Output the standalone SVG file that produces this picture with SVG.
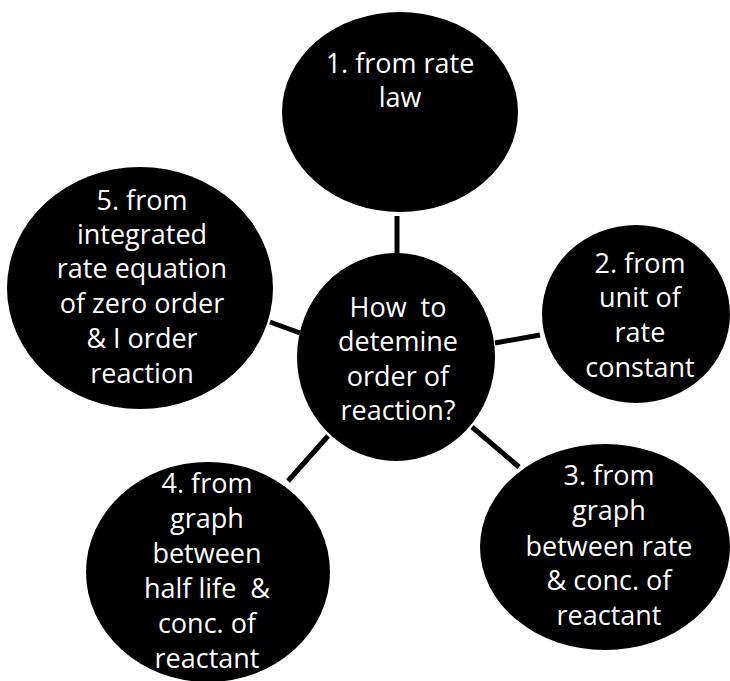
<svg xmlns="http://www.w3.org/2000/svg" width="730" height="681" viewBox="0 0 730 681">
<style>
.node{fill:#000;}
.lbl{fill:#fff;font-family:"Open Sans","Noto Sans",sans-serif;font-size:27px;text-anchor:middle;}
.conn line{stroke:#000;stroke-width:5;stroke-linecap:butt;}
</style>
<rect width="730" height="681" fill="#fff"/>
<g id="connectors" class="conn">
<line x1="397" y1="216" x2="397" y2="255"/>
<line x1="495" y1="343" x2="540" y2="335"/>
<line x1="472" y1="427" x2="519" y2="467"/>
<line x1="328" y1="436" x2="288" y2="481"/>
<line x1="270" y1="322" x2="300" y2="333"/>
</g>
<g id="center">
<ellipse class="node" cx="396" cy="357" rx="99" ry="104"/>
<text class="lbl"><tspan x="398" y="317">How&#160; to</tspan><tspan x="398" y="351">detemine</tspan><tspan x="398" y="386">order of</tspan><tspan x="398" y="420">reaction?</tspan></text>
</g>
<g id="n1">
<ellipse class="node" cx="400" cy="112" rx="118" ry="100"/>
<text class="lbl"><tspan x="400" y="73">1. from rate</tspan><tspan x="400" y="107">law</tspan></text>
</g>
<g id="n2">
<ellipse class="node" cx="636" cy="314" rx="94" ry="89"/>
<text class="lbl"><tspan x="640" y="273">2. from</tspan><tspan x="640" y="307">unit of</tspan><tspan x="640" y="342">rate</tspan><tspan x="640" y="377">constant</tspan></text>
</g>
<g id="n3">
<ellipse class="node" cx="605" cy="547" rx="125" ry="103"/>
<text class="lbl"><tspan x="609" y="485">3. from</tspan><tspan x="609" y="520">graph</tspan><tspan x="609" y="556">between rate</tspan><tspan x="609" y="590">&amp; conc. of</tspan><tspan x="609" y="625">reactant</tspan></text>
</g>
<g id="n4">
<ellipse class="node" cx="208" cy="572" rx="122" ry="110"/>
<text class="lbl"><tspan x="207" y="493">4. from</tspan><tspan x="207" y="528">graph</tspan><tspan x="207" y="563">between</tspan><tspan x="207" y="598">half life&#160; &amp;</tspan><tspan x="207" y="633">conc. of</tspan><tspan x="207" y="668">reactant</tspan></text>
</g>
<g id="n5">
<ellipse class="node" cx="140" cy="288" rx="133" ry="121"/>
<text class="lbl"><tspan x="142" y="210">5. from</tspan><tspan x="142" y="244">integrated</tspan><tspan x="142" y="278">rate equation</tspan><tspan x="142" y="313">of zero order</tspan><tspan x="142" y="348">&amp; I order</tspan><tspan x="142" y="383">reaction</tspan></text>
</g>
</svg>
